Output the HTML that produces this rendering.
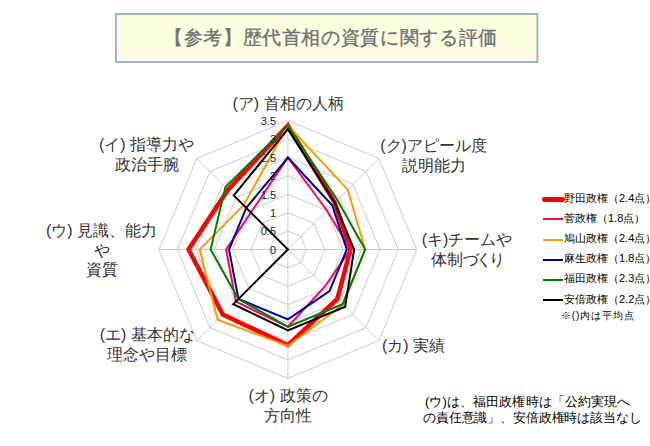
<!DOCTYPE html>
<html lang="ja"><head><meta charset="utf-8"><style>
html,body{margin:0;padding:0;background:#fff;}
body{width:650px;height:446px;position:relative;overflow:hidden;font-family:"Liberation Sans",sans-serif;color:#404040;}
.tt{position:absolute;left:164px;top:14px;white-space:nowrap;font-size:19.3px;letter-spacing:0.64px;color:#717178;line-height:47px;-webkit-text-stroke:0.35px #717178;}
.lab{position:absolute;width:200px;font-size:16px;line-height:19.8px;text-align:center;white-space:nowrap;color:#333;}
.pp{margin-right:4.5px;}
.leg{position:absolute;left:564px;font-size:11px;line-height:20px;white-space:nowrap;color:#000;}
.note{position:absolute;white-space:nowrap;color:#000;}
</style></head><body>
<svg width="650" height="80" style="position:absolute;left:0;top:0"><rect x="115.9" y="13.9" width="421.5" height="48.2" fill="#fdfddf" stroke="#8faadc" stroke-width="1.75"/></svg>
<div class="tt">【参考】歴代首相の資質に関する評価</div>
<svg width="650" height="446" viewBox="0 0 650 446" style="position:absolute;left:0;top:0">
<g fill="none" stroke="#cacaca" stroke-width="1"><polygon points="287.9,231.1 300.91,236.49 306.3,249.5 300.91,262.51 287.9,267.9 274.89,262.51 269.5,249.5 274.89,236.49"/><polygon points="287.9,212.7 313.92,223.48 324.7,249.5 313.92,275.52 287.9,286.3 261.88,275.52 251.1,249.5 261.88,223.48"/><polygon points="287.9,194.3 326.93,210.47 343.1,249.5 326.93,288.53 287.9,304.7 248.87,288.53 232.7,249.5 248.87,210.47"/><polygon points="287.9,175.9 339.94,197.46 361.5,249.5 339.94,301.54 287.9,323.1 235.86,301.54 214.3,249.5 235.86,197.46"/><polygon points="287.9,157.5 352.95,184.45 379.9,249.5 352.95,314.55 287.9,341.5 222.85,314.55 195.9,249.5 222.85,184.45"/><polygon points="287.9,139.1 365.96,171.44 398.3,249.5 365.96,327.56 287.9,359.9 209.84,327.56 177.5,249.5 209.84,171.44"/><polygon points="287.9,120.7 378.98,158.42 416.7,249.5 378.98,340.58 287.9,378.3 196.82,340.58 159.1,249.5 196.82,158.42"/><line x1="287.9" y1="249.5" x2="287.9" y2="120.7"/><line x1="287.9" y1="249.5" x2="378.98" y2="158.42"/><line x1="287.9" y1="249.5" x2="416.7" y2="249.5"/><line x1="287.9" y1="249.5" x2="378.98" y2="340.58"/><line x1="287.9" y1="249.5" x2="287.9" y2="378.3"/><line x1="287.9" y1="249.5" x2="196.82" y2="340.58"/><line x1="287.9" y1="249.5" x2="159.1" y2="249.5"/><line x1="287.9" y1="249.5" x2="196.82" y2="158.42"/></g>
<g fill="none" stroke-linejoin="miter" stroke-miterlimit="10"><polygon points="287.9,125.48 334.74,202.66 350.46,249.5 337.34,298.94 287.9,345.18 222.85,314.55 188.54,249.5 228.05,189.65" stroke="#ff0000" stroke-width="4.5"/><polygon points="287.9,157.5 326.93,210.47 350.46,249.5 324.85,286.45 287.9,326.78 235.86,301.54 226.08,249.5 250.95,212.55" stroke="#ff0066" stroke-width="2.0"/><polygon points="287.9,125.48 347.75,189.65 365.18,249.5 343.07,304.67 287.9,345.92 217.64,319.76 199.58,249.5 243.66,205.26" stroke="#ff9900" stroke-width="2.0"/><polygon points="287.9,157.5 332.14,205.26 346.78,249.5 329.53,291.13 287.9,319.42 238.46,298.94 229.02,249.5 246.27,207.87" stroke="#000099" stroke-width="2.0"/><polygon points="287.9,125.48 337.34,200.06 365.18,249.5 342.55,304.15 287.9,326.78 238.46,298.94 210.62,249.5 225.45,187.05" stroke="#008000" stroke-width="2.0"/><polygon points="287.9,129.16 334.74,202.66 354.14,249.5 345.15,306.75 287.9,330.46 233.25,304.15 287.9,249.5 233.78,195.38" stroke="#000000" stroke-width="2.0"/></g>
<g font-family="Liberation Sans, sans-serif" font-size="11" fill="#1e1e1e" text-anchor="end"><text x="276" y="253.7">0</text><text x="276" y="235.3">0.5</text><text x="276" y="216.9">1</text><text x="276" y="198.5">1.5</text><text x="276" y="180.1">2</text><text x="276" y="161.7">2.5</text><text x="276" y="143.3">3</text><text x="276" y="124.9">3.5</text></g>
</svg>
<div class="lab" style="left:188px;top:94.2px"><span class="pp">(ア)</span>首相の人柄</div><div class="lab" style="left:46.5px;top:135.4px"><span class="pp">(イ)</span>指導力や<br>政治手腕</div><div class="lab" style="left:333.5px;top:136px">(ク)アピール度<br>説明能力</div><div class="lab" style="left:367px;top:230.4px">(キ)チームや<br><span style="position:relative;left:1px">体制<span style="letter-spacing:-3px">づく</span>り</span></div><div class="lab" style="left:1.5px;top:220.8px"><span class="pp">(ウ)</span>見識、能力<br>や<br>資質</div><div class="lab" style="left:47.3px;top:325.3px"><span class="pp">(エ)</span>基本的な<br>理念や目標</div><div class="lab" style="left:313.6px;top:336.2px"><span class="pp">(カ)</span>実績</div><div class="lab" style="left:188px;top:386.4px"><span class="pp">(オ)</span>政策の<br>方向性</div>
<div style="position:absolute;left:541.5px;top:197.05px;width:23px;height:4.5px;border-radius:2.25px;background:#ff0000"></div><div class="leg" style="top:187.7px">野田政権（2.4点）</div><div style="position:absolute;left:542.8px;top:218.48px;width:20px;height:2px;background:#ff0066"></div><div class="leg" style="top:207.88px">菅政権（1.8点）</div><div style="position:absolute;left:542.8px;top:238.66px;width:20px;height:2px;background:#ff9900"></div><div class="leg" style="top:228.06px">鳩山政権（2.4点）</div><div style="position:absolute;left:542.8px;top:258.84px;width:20px;height:2px;background:#000099"></div><div class="leg" style="top:248.24px">麻生政権（1.8点）</div><div style="position:absolute;left:542.8px;top:279.02px;width:20px;height:2px;background:#008000"></div><div class="leg" style="top:268.42px">福田政権（2.3点）</div><div style="position:absolute;left:542.8px;top:299.2px;width:20px;height:2px;background:#000000"></div><div class="leg" style="top:288.6px">安倍政権（2.2点）</div>
<div class="note" style="left:561px;top:309px;font-size:10px;line-height:14px;letter-spacing:0.85px">※()内は平均点</div>
<div class="note" style="left:425px;top:394px;font-size:13px;line-height:16px;letter-spacing:0.1px">(ウ)は、福田政権時は「公約実現へ</div>
<div class="note" style="left:423px;top:409.5px;font-size:13px;line-height:16px;letter-spacing:-0.15px">の責任意識」、安倍政権時は該当なし</div>
</body></html>
